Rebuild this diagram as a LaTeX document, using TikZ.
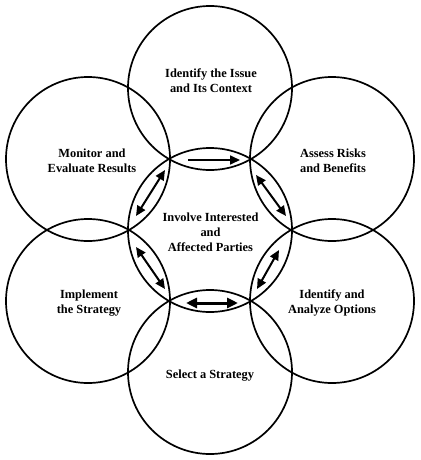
\documentclass[tikz,border=0pt]{standalone}
\usepackage{fontspec}
\setmainfont{Liberation Serif}
\usetikzlibrary{arrows.meta}
\begin{document}
\begin{tikzpicture}[x=1pt,y=-1pt,
  ring/.style={circle,draw=black,line width=1.7pt,minimum size=164pt,inner sep=0pt},
  lbl/.style={align=center,font=\fontsize{12.4}{15}\selectfont\bfseries,inner sep=0pt},
  arr/.style={line width=1.7pt,-{Triangle[length=10pt,width=9pt]}},
  darr/.style={line width=2pt,{Triangle[length=10pt,width=9pt]}-{Triangle[length=10pt,width=9pt]}},
  barr/.style={line width=3pt,{Triangle[length=11pt,width=10pt]}-{Triangle[length=11pt,width=10pt]}}]
\useasboundingbox (0,0) rectangle (420,460);
\node[ring] (cc) at (210,230) {};
\node[ring] (ct) at (210,88) {};
\node[ring] (cb) at (210,372) {};
\node[ring] (cul) at (88,159) {};
\node[ring] (cll) at (88,301) {};
\node[ring] (cur) at (332,159) {};
\node[ring] (clr) at (332,301) {};
\node[lbl] (tt) at (211,81) {Identify the Issue\\and Its Context};
\node[lbl] (tul) at (92,161) {Monitor and\\Evaluate Results};
\node[lbl] (tur) at (333,161) {Assess Risks\\and Benefits};
\node[lbl] (tc) at (210.5,232) {Involve Interested\\and\\Affected Parties};
\node[lbl] (tll) at (89,303) {Implement\\the Strategy};
\node[lbl] (tlr) at (332,303) {Identify and\\Analyze Options};
\node[lbl] (tb) at (210,376) {Select a Strategy};
\coordinate (a1s) at (188,160); \coordinate (a1e) at (240,160);
\coordinate (a2s) at (256,175); \coordinate (a2e) at (286,216);
\coordinate (a3s) at (279,250); \coordinate (a3e) at (257,289);
\coordinate (a4s) at (238,303); \coordinate (a4e) at (186,303);
\coordinate (a5s) at (165,289); \coordinate (a5e) at (136,247);
\coordinate (a6s) at (136,216); \coordinate (a6e) at (165,170);
\draw[arr] (a1s) -- (a1e);
\draw[darr] (a2s) -- (a2e);
\draw[darr] (a3s) -- (a3e);
\draw[barr] (a4s) -- (a4e);
\draw[darr] (a5s) -- (a5e);
\draw[darr] (a6s) -- (a6e);
\end{tikzpicture}
\end{document}
